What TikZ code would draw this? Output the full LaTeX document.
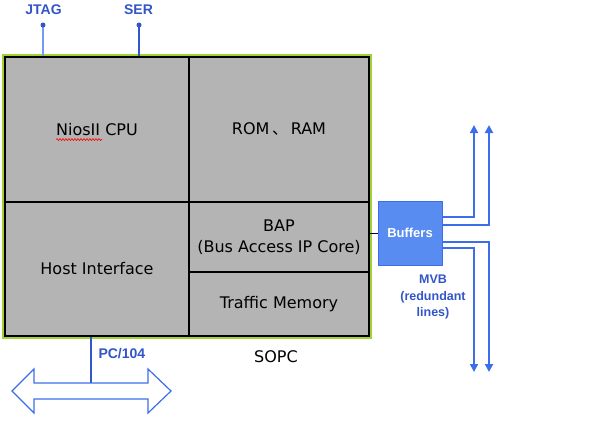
\documentclass[tikz,border=0pt]{standalone}
\usepackage{fontspec}
\setmainfont{DejaVu Sans}
\newfontfamily\lblfont{Liberation Sans}
\newfontfamily\cjk{Noto Sans CJK SC}
\usetikzlibrary{arrows.meta,positioning,decorations.pathmorphing}
\definecolor{cellgray}{RGB}{180,180,180}
\definecolor{frame}{RGB}{160,210,50}
\definecolor{pinblue}{RGB}{50,85,200}
\definecolor{busblue}{RGB}{60,110,235}
\definecolor{buffill}{RGB}{88,140,240}

\begin{document}
\begin{tikzpicture}[x=1pt, y=-1pt, >={Triangle[length=8pt,width=8pt]},
    cell/.style={draw=black, line width=1.4pt, fill=cellgray, inner sep=0pt,
      align=center, font=\fontsize{16}{21}\selectfont},
    pinlabel/.style={text=pinblue, font=\lblfont\bfseries\fontsize{14}{16}\selectfont},
    mvbline/.style={busblue, line width=1.6pt},
    mvbthick/.style={busblue, line width=2.4pt}]
  \useasboundingbox (0,0) rectangle (593,424);
  % SOPC frame
  \draw[frame, line width=2.5pt] (3.5,55.5) rectangle (370.5,337.5);
  \node[cell, minimum width=184pt, minimum height=145pt] (cpu) at (97,129.5) {NiosII CPU};
  \node[cell, minimum width=180pt, minimum height=145pt] (mem) at (279,129.5)
    {ROM\,{\cjk 、}\,RAM};
  \node[cell, minimum width=184pt, minimum height=134pt] (host) at (97,269) {Host Interface};
  \node[cell, minimum width=180pt, minimum height=70pt] (bap) at (279,237)
    {BAP\\(Bus Access IP Core)};
  \node[cell, minimum width=180pt, minimum height=64pt] (tm) at (279,304) {Traffic Memory};
  \draw[red, line width=0.6pt, decorate,
    decoration={snake, amplitude=1pt, segment length=3pt}] (56,139.5) -- (102,139.5);
  \node[font=\fontsize{16}{20}\selectfont] (sopc) at (276,357) {SOPC};

  % debug pins
  \node[pinlabel] (jtag) at (43.5,10) {JTAG};
  \node[pinlabel] (ser) at (138.5,10) {SER};
  \coordinate (jtagpin) at (43,25);
  \coordinate (serpin) at (139,25);
  \draw[busblue!70, line width=1.2pt] (jtagpin) -- (jtagpin |- cpu.north);
  \draw[pinblue, line width=2pt] (serpin) -- (serpin |- cpu.north);
  \fill[pinblue] (jtagpin) circle(2.5pt) (serpin) circle(2.5pt);

  % MVB buffers
  \node[draw=busblue, line width=1pt, fill=buffill, minimum size=64pt, inner sep=0pt,
    text=white, font=\lblfont\bfseries\fontsize{13}{15}\selectfont] (buf) at (410,233) {Buffers};
  \draw[black!70!blue, line width=1pt] (buf.west) -- (buf.west -| bap.east);
  \coordinate (upA) at (474,125);
  \coordinate (upB) at (489,125);
  \coordinate (dnA) at (474,372);
  \coordinate (dnB) at (489,372);
  \draw[mvbline,->] ([yshift=16pt]buf.east) -| (upA);
  \draw[mvbthick,->] ([yshift=8pt]buf.east) -| (upB);
  \draw[mvbthick,->] ([yshift=-9pt]buf.east) -| (dnB);
  \draw[mvbline,->] ([yshift=-15pt]buf.east) -| (dnA);
  \node[pinlabel, align=center, font=\lblfont\bfseries\fontsize{12.5}{16.5}\selectfont]
    (mvb) at (433,297) {MVB\\(redundant\\lines)};

  % PC/104 bus
  \coordinate (bustop) at (91,383);
  \draw[pinblue, line width=1.6pt] (host.south -| bustop) -- (bustop);
  \node[pinlabel, anchor=west] (pc) at (95,354) {PC/104};
  \draw[busblue, line width=1.2pt, line join=miter] (12,391) -- (34,369) -- (34,383)
    -- (148,383) -- (148,369) -- (171,391) -- (148,413) -- (148,399) -- (34,399)
    -- (34,413) -- cycle;
\end{tikzpicture}
\end{document}
